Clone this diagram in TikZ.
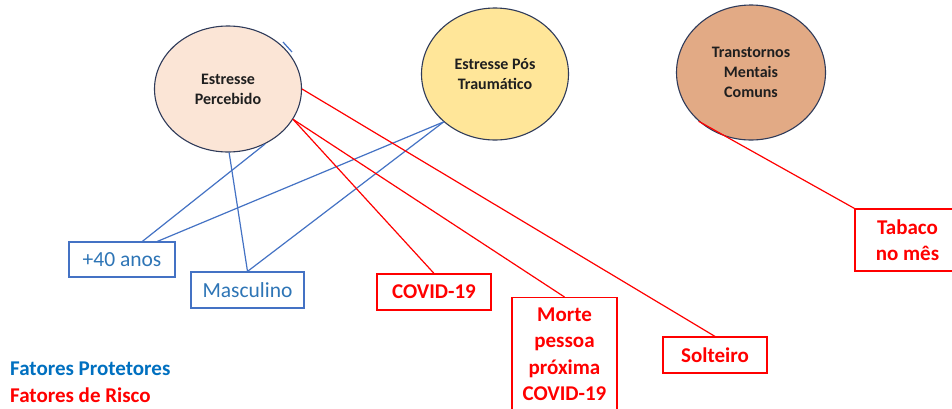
\documentclass[tikz,border=0pt]{standalone}
\usepackage{fontspec}
\setmainfont{Carlito}
\usetikzlibrary{shapes.geometric,calc}
\definecolor{peach}{HTML}{FBE5D6}
\definecolor{gold}{HTML}{FFE699}
\definecolor{tan}{HTML}{E2AA85}
\definecolor{ellborder}{HTML}{2F3B5A}
\definecolor{lblue}{HTML}{4472C4}
\definecolor{tblue}{HTML}{2E75B6}
\definecolor{legblue}{HTML}{0070C0}
\definecolor{rred}{HTML}{FF0000}
\begin{document}
\begin{tikzpicture}[x=1pt,y=-1pt,
  ell/.style={ellipse, draw=ellborder, line width=1.1pt, inner sep=0pt,
    minimum width=147pt, minimum height=126pt, align=center,
    font=\fontsize{16}{20}\selectfont\bfseries, text=black!88},
  pbox/.style={draw=lblue, line width=1.2pt, text=tblue, inner sep=0pt,
    font=\fontsize{21.5}{25.6}\selectfont, minimum height=35pt, align=center},
  rbox/.style={draw=rred, line width=1.2pt, text=rred, inner sep=0pt,
    font=\fontsize{21}{26.5}\selectfont\bfseries, minimum height=36pt, align=center},
  pline/.style={draw=lblue, line width=1.2pt},
  rline/.style={draw=rred, line width=1.2pt},
  legend/.style={anchor=west, inner sep=0pt, font=\fontsize{21}{25.6}\selectfont\bfseries}]
\useasboundingbox (0,0) rectangle (952,408);
\clip (0,0) rectangle (952,408);
\fill[white] (0,0) rectangle (952,408);

% ellipses
\node[ell, fill=peach] (ep) at (228,89) {Estresse\\Percebido};
\node[ell, fill=gold, minimum height=132pt] (ept) at (495,74) {Estresse Pós\\Traumático};
\node[ell, fill=tan, minimum width=149pt, minimum height=135pt] (etm) at (751,72.5)
  {Transtornos\\Mentais\\Comuns};

% boxes
\node[pbox, minimum width=106pt] (anos) at (122,259.5) {+40 anos};
\node[pbox, minimum width=113pt, minimum height=36pt] (masc) at (247.5,290) {Masculino};
\node[rbox, minimum width=114pt] (covid) at (434,292) {COVID-19};
\node[rbox, minimum width=105pt, inner ysep=10pt, anchor=north] (morte) at (564.5,297)
  {Morte\\pessoa\\próxima\\COVID-19};
\node[rbox, minimum width=104pt] (sol) at (715,355) {Solteiro};
\node[rbox, minimum width=105pt, minimum height=62pt] (tab) at (907.5,240)
  {\fontsize{21}{25}\selectfont Tabaco\\no mês};

% legend
\node[legend, text=legblue] (leg1) at (10,369) {Fatores Protetores};
\node[legend, text=rred] (leg2) at (10,395) {Fatores de Risco};

% connectors
\draw[pline] (ep.-56.5) -- ($(anos.north west)!0.69!(anos.north east)$);
\draw[pline] (ept.223) -- ($(anos.north west)!0.83!(anos.north east)$);
\draw[pline] (ep.-89) -- (masc.north);
\draw[pline] (ept.223) -- (masc.north);
\coordinate (s1) at (283,42);
\coordinate (s2) at (292,52);
\draw[pline] (s1) -- (s2);
\draw[rline] (ep.east) -- (sol.north);
\draw[rline] (ep.-25) -- (covid.north);
\draw[rline] (ep.-25) -- (morte.north);
\draw[rline] (etm.223) -- (tab.north west);
\end{tikzpicture}
\end{document}
